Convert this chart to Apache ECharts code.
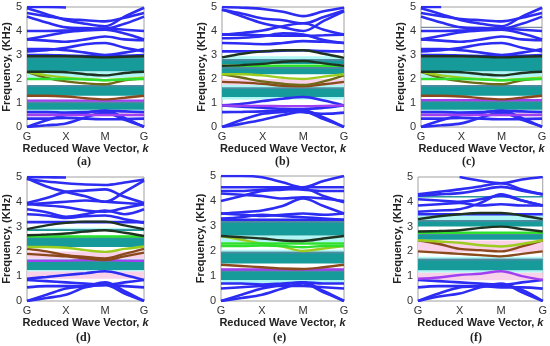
<!DOCTYPE html>
<html><head><meta charset="utf-8">
<script src="https://cdn.jsdelivr.net/npm/echarts@6/dist/echarts.min.js"></script>
<style>html,body{margin:0;padding:0;background:#fff}#c{width:550px;height:346px}</style>
</head><body><div id="c"></div>
<script>
const kPts = [0, 0.5, 1, 1.5, 2, 2.5, 3];
const kLabels = ['G', 'X', 'M', 'G'];
const panelLetters = ['(a)', '(b)', '(c)', '(d)', '(e)', '(f)'];

// ---- panel (a)
const aGaps = [[2.32, 2.93], [1.3, 1.75], [0.72, 1.06]];
const aHalos = [[2.05, 2.32], [0.62, 0.72], [2.93, 3.0]];
const aPinks = [[0.45, 0.6]];
const aBlue = [
  [5.0, 5.0, 4.98, null, null, null, null],
  [4.95, 4.7, 4.45, 4.3, 4.2, 4.6, 4.97],
  [4.75, 4.62, 4.5, 4.45, 4.4, 4.55, 4.75],
  [4.6, 4.35, 4.15, 4.12, 4.1, 4.3, 4.6],
  [4.0, 4.0, 4.02, 4.05, 4.1, 4.05, 4.0],
  [3.65, 3.8, 3.95, 4.02, 4.05, 3.9, 3.65],
  [3.65, 3.6, 3.55, 3.65, 3.77, 3.65, 3.62],
  [3.25, 3.25, 3.2, 3.1, 3.0, 3.1, 3.25],
  [3.15, 3.2, 3.3, 3.45, 3.5, 3.3, 3.15],
  [3.0, 3.0, 2.98, 2.96, 2.95, 2.97, 3.0],
  [0.62, 0.62, 0.6, 0.62, 0.68, 0.65, 0.62],
  [0.35, 0.35, 0.38, 0.35, 0.32, 0.33, 0.35],
  [0, 0.28, 0.5, 0.6, 0.68, 0.38, 0],
  [0, 0.07, 0.15, 0.4, 0.6, 0.3, 0.02]
];
const aBlack = [[2.3, 2.3, 2.28, 2.2, 2.15, 2.25, 2.3], [2.95, 2.95, 2.95, 2.93, 2.9, 2.93, 2.95]];
const aGreen = [[2.0, 2.0, 2.0, 1.98, 1.95, 1.98, 2.0]];
const aLime = [[2.3, 2.15, 2.05, 2.0, 1.95, 2.0, 2.05]];
const aOlive = [[2.3, 2.05, 1.9, 1.82, 1.78, 1.95, 2.02]];
const aBrown = [[1.3, 1.3, 1.27, 1.2, 1.15, 1.22, 1.3]];
const aPurple = [[1.1, 1.1, 1.1, 1.1, 1.1, 1.1, 1.1], [0.5, 0.5, 0.5, 0.5, 0.5, 0.5, 0.5]];
const aGrey = [];

// ---- panel (b)
const bGaps = [[2.62, 2.83], [2.2, 2.5], [1.25, 1.65]];
const bHalos = [[2.83, 2.95], [1.65, 1.75], [1.15, 1.25]];
const bPinks = [[1.75, 2.0]];
const bBlue = [
  [5.0, 4.97, 4.92, 4.8, 4.62, 4.82, 4.97],
  [4.88, 4.72, 4.52, 4.45, 4.32, 4.58, 4.85],
  [4.9, 4.6, 4.32, 4.15, 4.0, 4.42, 4.82],
  [3.85, 3.92, 4.02, 4.2, 4.32, 4.05, 3.85],
  [3.85, 3.85, 3.82, 3.8, 3.8, 3.82, 3.85],
  [3.7, 3.72, 3.78, 3.9, 3.85, 3.62, 3.5],
  [3.5, 3.48, 3.45, 3.5, 3.58, 3.55, 3.5],
  [3.15, 3.15, 3.15, 3.18, 3.2, 3.16, 3.15],
  [0.9, 0.97, 1.08, 1.18, 1.25, 1.1, 0.9],
  [0.9, 0.85, 0.8, 0.76, 0.75, 0.8, 0.9],
  [0.62, 0.63, 0.65, 0.7, 0.62, 0.55, 0.6],
  [0, 0.3, 0.55, 0.63, 0.7, 0.4, 0],
  [0, 0.14, 0.3, 0.5, 0.64, 0.33, 0]
];
const bBlack = [[2.9, 3.05, 3.15, 3.2, 3.2, 3.05, 2.88], [2.55, 2.58, 2.63, 2.72, 2.75, 2.65, 2.55]];
const bGreen = [[2.55, 2.55, 2.55, 2.55, 2.55, 2.55, 2.55]];
const bLime = [[2.2, 2.2, 2.15, 2.05, 2.0, 2.1, 2.2]];
const bOlive = [[2.2, 2.05, 1.9, 1.8, 1.75, 1.9, 2.15]];
const bBrown = [[1.88, 1.85, 1.8, 1.72, 1.7, 1.78, 1.88]];
const bPurple = [[0.9, 0.88, 0.88, 0.87, 0.87, 0.88, 0.9]];
const bGrey = [];

// ---- panel (c)
const cGaps = [[2.32, 2.95], [1.3, 1.75], [0.72, 1.1]];
const cHalos = [[2.05, 2.32], [0.62, 0.72], [2.95, 3.0]];
const cPinks = [[0.45, 0.6]];
const cBlue = [
  [5.0, 5.0, null, null, null, null, null],
  [4.95, 4.7, 4.45, 4.3, 4.2, 4.6, 4.97],
  [4.75, 4.62, 4.5, 4.45, 4.4, 4.55, 4.75],
  [4.6, 4.35, 4.15, 4.12, 4.1, 4.3, 4.6],
  [4.0, 4.0, 4.02, 4.05, 4.1, 4.05, 4.0],
  [3.65, 3.8, 3.95, 4.02, 4.05, 3.9, 3.65],
  [3.65, 3.6, 3.55, 3.65, 3.77, 3.65, 3.62],
  [3.25, 3.25, 3.2, 3.1, 3.0, 3.1, 3.25],
  [3.15, 3.2, 3.3, 3.45, 3.5, 3.3, 3.15],
  [3.0, 3.0, 2.98, 2.96, 2.95, 2.97, 3.0],
  [0.62, 0.62, 0.6, 0.62, 0.68, 0.65, 0.62],
  [0.35, 0.35, 0.38, 0.35, 0.32, 0.33, 0.35],
  [0, 0.28, 0.5, 0.6, 0.68, 0.38, 0],
  [0, 0.07, 0.15, 0.4, 0.6, 0.3, 0.02]
];
const cBlack = [[2.3, 2.3, 2.28, 2.2, 2.15, 2.25, 2.3], [2.95, 2.95, 2.95, 2.93, 2.9, 2.93, 2.95]];
const cGreen = [[2.0, 2.0, 2.0, 1.98, 1.95, 1.98, 2.0]];
const cLime = [[2.3, 2.15, 2.05, 2.0, 1.95, 2.0, 2.05]];
const cOlive = [[2.3, 2.05, 1.9, 1.82, 1.78, 1.95, 2.02]];
const cBrown = [[1.3, 1.3, 1.27, 1.2, 1.15, 1.22, 1.3]];
const cPurple = [[1.12, 1.12, 1.12, 1.12, 1.12, 1.12, 1.12], [0.5, 0.5, 0.5, 0.5, 0.5, 0.5, 0.5]];
const cGrey = [[4.15, 4.15, 4.15, 4.15, 4.15, 4.15, 4.15]];

// ---- panel (d)
const dGaps = [[2.18, 2.6], [1.25, 1.65], [2.82, 2.9]];
const dHalos = [[2.6, 2.65], [1.65, 1.7], [1.2, 1.25], [2.9, 2.95]];
const dPinks = [[1.7, 2.0], [0.9, 1.2]];
const dBlue = [
  [5.0, 4.99, 4.98, null, null, null, null],
  [4.92, 4.82, 4.75, 4.7, 4.68, 4.78, 4.9],
  [4.95, 4.62, 4.4, 4.22, 4.0, 4.4, 4.85],
  [3.95, 4.15, 4.4, 4.45, 4.5, 4.2, 3.95],
  [3.9, 3.95, 4.0, 4.05, 4.0, 3.95, 3.9],
  [3.9, 3.85, 3.78, 3.65, 3.6, 3.75, 3.9],
  [3.7, 3.58, 3.4, 3.5, 3.65, 3.5, 3.7],
  [3.5, 3.45, 3.35, 3.42, 3.45, 3.3, 3.15],
  [3.18, 3.18, 3.18, 3.18, 3.18, 3.18, 3.18],
  [0.9, 0.97, 1.05, 1.12, 1.2, 1.05, 0.85],
  [0.85, 0.8, 0.75, 0.7, 0.65, 0.75, 0.85],
  [0.55, 0.6, 0.6, 0.6, 0.65, 0.6, 0.55],
  [0, 0.25, 0.5, 0.6, 0.75, 0.4, 0],
  [0, 0.12, 0.25, 0.55, 0.65, 0.3, 0]
];
const dBlack = [[2.9, 3.05, 3.15, 3.2, 3.2, 3.05, 2.9], [2.65, 2.68, 2.72, 2.8, 2.85, 2.75, 2.62]];
const dGreen = [[2.6, 2.6, 2.6, 2.6, 2.6, 2.6, 2.6]];
const dLime = [[2.18, 2.18, 2.15, 2.05, 1.98, 2.1, 2.2]];
const dOlive = [];
const dBrown = [[1.9, 1.85, 1.8, 1.72, 1.65, 1.8, 1.95], [2.1, 2.0, 1.85, 1.78, 1.72, 1.9, 2.1]];
const dPurple = [[1.62, 1.62, 1.63, 1.65, 1.65, 1.63, 1.62]];
const dGrey = [];

// ---- panel (e)
const eGaps = [[2.62, 3.2], [1.5, 1.97], [0.84, 1.24]];
const eHalos = [[2.35, 2.62], [1.97, 2.05], [0.7, 0.84], [3.2, 3.28]];
const ePinks = [[1.24, 1.32]];
const eBlue = [
  [5.0, 5.0, 4.95, 4.75, 4.55, 4.8, 5.0],
  [4.55, 4.55, 4.55, 4.55, 4.55, 4.55, 4.55],
  [4.4, 4.4, 4.45, 4.5, 4.45, 4.4, 4.4],
  [4.0, 4.2, 4.4, 4.45, 4.5, 4.2, 3.95],
  [4.3, 4.25, 4.2, 4.1, 4.15, 4.1, 4.0],
  [3.5, 3.55, 3.62, 3.8, 4.1, 3.8, 3.5],
  [3.5, 3.45, 3.4, 3.45, 3.5, 3.45, 3.5],
  [3.3, 3.35, 3.45, 3.4, 3.35, 3.3, 3.25],
  [3.25, 3.25, 3.25, 3.25, 3.25, 3.25, 3.25],
  [0.7, 0.7, 0.66, 0.7, 0.75, 0.7, 0.7],
  [0.5, 0.55, 0.6, 0.6, 0.6, 0.55, 0.5],
  [0, 0.25, 0.5, 0.65, 0.75, 0.4, 0],
  [0, 0.12, 0.25, 0.5, 0.7, 0.35, 0]
];
const eBlack = [[2.6, 2.55, 2.5, 2.42, 2.4, 2.5, 2.6]];
const eGreen = [[2.3, 2.3, 2.3, 2.3, 2.3, 2.3, 2.3], [2.2, 2.2, 2.22, 2.2, 2.15, 2.2, 2.2]];
const eLime = [[2.6, 2.45, 2.3, 2.18, 2.0, 2.1, 2.2]];
const eOlive = [];
const eBrown = [[1.45, 1.4, 1.35, 1.3, 1.28, 1.35, 1.45]];
const ePurple = [[1.26, 1.26, 1.26, 1.26, 1.26, 1.26, 1.26]];
const eGrey = [];

// ---- panel (f)
const fGaps = [[3.0, 3.27], [2.47, 2.73], [1.24, 1.7], [4.17, 4.23]];
const fHalos = [[3.27, 3.5], [1.7, 1.78], [1.15, 1.24]];
const fPinks = [[1.97, 2.44], [0.84, 1.15]];
const fBlue = [
  [null, null, 5.0, 4.85, 4.75, 4.9, 5.0],
  [4.3, 4.4, 4.5, 4.62, 4.75, 4.5, 4.3],
  [4.25, 4.3, 4.35, 4.48, 4.6, 4.45, 4.3],
  [4.1, 4.05, 4.0, 4.1, 4.25, 4.05, 3.85],
  [3.85, 3.9, 3.95, 3.85, 3.9, 3.85, 3.85],
  [3.6, 3.65, 3.7, 3.95, 4.3, 4.05, 3.85],
  [3.5, 3.5, 3.5, 3.5, 3.5, 3.5, 3.5],
  [0.85, 0.8, 0.75, 0.7, 0.65, 0.75, 0.85],
  [0.55, 0.6, 0.6, 0.6, 0.55, 0.55, 0.5],
  [0, 0.3, 0.55, 0.6, 0.65, 0.45, 0],
  [0, 0.18, 0.3, 0.55, 0.7, 0.35, 0]
];
const fBlack = [[3.3, 3.42, 3.5, 3.55, 3.55, 3.45, 3.3], [2.8, 2.82, 2.85, 2.95, 3.0, 2.9, 2.8]];
const fGreen = [[2.75, 2.75, 2.75, 2.75, 2.75, 2.75, 2.75]];
const fLime = [[2.45, 2.4, 2.35, 2.25, 2.2, 2.3, 2.45]];
const fOlive = [];
const fBrown = [[2.45, 2.3, 2.1, 2.05, 2.0, 2.2, 2.45], [2.0, 1.95, 1.9, 1.85, 1.8, 1.9, 2.0]];
const fPurple = [[0.9, 0.95, 1.05, 1.1, 1.2, 1.0, 0.85]];
const fGrey = [];

const panels = [
  {gaps: aGaps, halos: aHalos, pinks: aPinks, blue: aBlue, black: aBlack, green: aGreen, lime: aLime, olive: aOlive, brown: aBrown, purple: aPurple, grey: aGrey},
  {gaps: bGaps, halos: bHalos, pinks: bPinks, blue: bBlue, black: bBlack, green: bGreen, lime: bLime, olive: bOlive, brown: bBrown, purple: bPurple, grey: bGrey},
  {gaps: cGaps, halos: cHalos, pinks: cPinks, blue: cBlue, black: cBlack, green: cGreen, lime: cLime, olive: cOlive, brown: cBrown, purple: cPurple, grey: cGrey},
  {gaps: dGaps, halos: dHalos, pinks: dPinks, blue: dBlue, black: dBlack, green: dGreen, lime: dLime, olive: dOlive, brown: dBrown, purple: dPurple, grey: dGrey},
  {gaps: eGaps, halos: eHalos, pinks: ePinks, blue: eBlue, black: eBlack, green: eGreen, lime: eLime, olive: eOlive, brown: eBrown, purple: ePurple, grey: eGrey},
  {gaps: fGaps, halos: fHalos, pinks: fPinks, blue: fBlue, black: fBlack, green: fGreen, lime: fLime, olive: fOlive, brown: fBrown, purple: fPurple, grey: fGrey}
];

// layout (pixels)
const boxes = [
  {left: 24, top: 7, width: 120, height: 120},
  {left: 222, top: 7, width: 122, height: 120},
  {left: 421, top: 7, width: 121, height: 120},
  {left: 25, top: 177, width: 119, height: 124},
  {left: 221, top: 176, width: 123, height: 125},
  {left: 418, top: 177, width: 125, height: 124}
];
const letterPos = [[85, 163], [283, 163], [470, 163], [84, 339], [281, 339], [478, 339]];

const colors = {
  blue: '#2c2cf2', black: '#1e3320', green: '#2ee02e', lime: '#9ccc1e',
  olive: '#6e6a18', brown: '#8a4a1c', purple: '#a040f0', grey: '#7a8a9a'
};
const fontSans = 'Liberation Sans, Arial, sans-serif';

const grid = [], xAxis = [], yAxis = [], series = [], graphic = [];
panels.forEach((p, i) => {
  const b = boxes[i];
  grid.push({left: b.left, top: b.top, width: b.width, height: b.height, show: true,
    borderColor: '#a0a0a0', borderWidth: 1, backgroundColor: '#fff'});
  xAxis.push({gridIndex: i, type: 'value', min: 0, max: 3, interval: 1,
    axisLine: {show: false}, axisTick: {show: false}, splitLine: {show: false},
    axisLabel: {formatter: v => kLabels[v], fontSize: 11, color: '#333', margin: 4, fontFamily: fontSans},
    name: 'Reduced Wave Vector, {k|k}', nameLocation: 'middle', nameGap: 16,
    nameTextStyle: {fontSize: 11, fontWeight: 'bold', color: '#222', fontFamily: fontSans,
      rich: {k: {fontSize: 11, fontWeight: 'bold', fontStyle: 'italic', color: '#222', fontFamily: fontSans}}}
  });
  yAxis.push({gridIndex: i, type: 'value', min: 0, max: 5, interval: 1,
    axisLine: {show: false}, axisTick: {show: false}, splitLine: {show: false},
    axisLabel: {fontSize: 11, color: '#333', margin: 5, fontFamily: fontSans},
    name: 'Frequency, (KHz)', nameLocation: 'middle', nameGap: 12,
    nameTextStyle: {fontSize: 11, fontWeight: 'bold', color: '#222', fontFamily: fontSans}
  });
  const area = (list, color) => list.map(r => [{yAxis: r[0], itemStyle: {color: color}}, {yAxis: r[1]}]);
  const edge = list => list.map(r => [{yAxis: r[1] - Math.min(0.07, (r[1] - r[0]) / 3), itemStyle: {color: '#4f8aa0'}}, {yAxis: r[1]}]);
  series.push({type: 'line', xAxisIndex: i, yAxisIndex: i, data: [], silent: true, z: 1,
    markArea: {silent: true, data: area(p.pinks, '#f9d2ea').concat(area(p.halos, '#b0f6f4'))}});
  series.push({type: 'line', xAxisIndex: i, yAxisIndex: i, data: [], silent: true, z: 2,
    markArea: {silent: true, data: area(p.gaps, '#179a9a').concat(edge(p.gaps))}});
  const addLines = (list, color, width) => list.forEach(vals => {
    series.push({type: 'line', xAxisIndex: i, yAxisIndex: i, smooth: 0.35, showSymbol: false, silent: true, z: 3,
      lineStyle: {color: color, width: width},
      data: kPts.map((k, j) => [k, vals[j] == null ? null : vals[j]]).filter(d => d[1] !== null)});
  });
  addLines(p.grey, colors.grey, 1.2);
  addLines(p.blue, colors.blue, 2.6);
  addLines(p.purple, colors.purple, 2.4);
  addLines(p.brown, colors.brown, 2.4);
  addLines(p.olive, colors.olive, 2.4);
  addLines(p.lime, colors.lime, 2.4);
  addLines(p.green, colors.green, 2.4);
  addLines(p.black, colors.black, 2.4);
  graphic.push({type: 'text', left: letterPos[i][0] - 8, top: letterPos[i][1] - 7,
    style: {text: panelLetters[i], font: 'bold 12px "Liberation Serif", serif', fill: '#222'}});
});

const chart = echarts.init(document.getElementById('c'), null, {renderer: 'canvas'});
chart.setOption({animation: false, grid, xAxis, yAxis, series, graphic});
</script>
</body></html>
